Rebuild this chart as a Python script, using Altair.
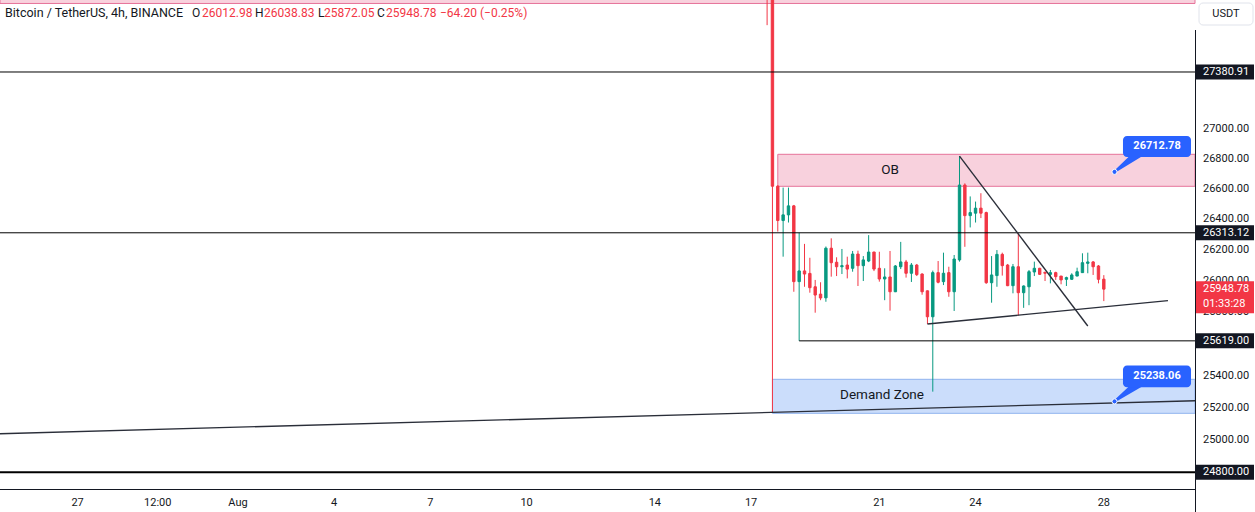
import altair as alt
import pandas as pd
import numpy as np

# ------------------------------------------------------------------ data
BASE = pd.Timestamp("2023-07-27 00:00")
X_START, X_END = "2023-07-24 13:55", "2023-08-30 20:14"
Y_LOW, Y_HIGH = 24697, 27873

candle_start = "2023-08-17 12:00"
opens = [28500, 28280, 26618, 26393, 26430, 26489, 25997, 26066, 26050, 25964,
         25917, 25893, 26213, 26122, 26093, 26104, 26083, 26175, 26100, 26130,
         26188, 26083, 26014, 26027, 25932, 26093, 26124, 26051, 26104, 26046,
         25938, 25772, 26055, 25997, 26055, 25932, 26137, 26626, 26425, 26441,
         26474, 26445, 25990, 26036, 26173, 26104, 25971, 26093, 25926, 25964,
         26059, 26083, 26057, 26044, 26055, 26033, 26012, 26012, 26033, 26055,
         26115, 26124, 26098, 26012.98]
highs = [28600, 28320, 26625, 26609, 26609, 26495, 26313.12, 26241, 26151, 26008,
         25993, 26224, 26277, 26154, 26208, 26158, 26195, 26197, 26162, 26298,
         26190, 26190, 26083, 26195, 26104, 26254, 26137, 26117, 26111, 26051,
         25940, 26068, 26130, 26184, 26093, 26169, 26817, 26637, 26551, 26517,
         26572, 26451, 26162, 26201, 26184, 26111, 26111, 26310, 25973, 26072,
         26126, 26086, 26061, 26072, 26061, 26033, 26029, 26051, 26087, 26180,
         26184, 26130, 26104, 26038.83]
lows = [27700, 25166, 26321, 26158, 26380, 25932, 25619, 25964, 25926, 25798,
        25878, 25868, 26029, 26033, 26046, 26018, 26061, 25969, 26001, 26123,
        26065, 25997, 25878, 25811, 25930, 26078, 26023, 25995, 26033, 25913,
        25726, 25299, 25986, 25975, 25900, 25809, 26126, 26222, 26348, 26380,
        26409, 25983, 25862, 25964, 26036, 25968, 25922, 25780, 25829, 25846,
        26033, 26040, 26001, 25986, 26008, 25980, 25969, 26008, 26033, 26053,
        26051, 26040, 25986, 25872.05]
closes = [28280, 26618, 26393, 26430, 26489, 25997, 26066, 26046, 25958, 25911,
          25892, 26213, 26119, 26093, 26100, 26078, 26175, 26100, 26137, 26188,
          26078, 26014, 26027, 25932, 26098, 26124, 26051, 26104, 26042, 25932,
          25772, 26055, 25993, 26051, 25932, 26143, 26626, 26425, 26445, 26474,
          26441, 25990, 26040, 26173, 26100, 25971, 26093, 25926, 25969, 26061,
          26083, 26044, 26051, 26055, 26029, 26008, 26023, 26040, 26061, 26119,
          26124, 26093, 26012, 25948.78]

# horizontal levels drawn on the chart
level_prices = [27380.91, 26313.12, 25619.00, 24800.00]
level_starts = [X_START, X_START, "2023-08-18 12:00", X_START]
level_widths = [1, 1, 1, 2]

# zones (rectangles)
zone_names = ["upper", "OB", "Demand Zone"]
zone_starts = [X_START, "2023-08-17 20:00", "2023-08-17 16:00"]
zone_low = [27849, 26617.5, 25163.8]
zone_high = [28600, 26829, 25376.4]
zone_label_time = ["2023-08-21 08:00", "2023-08-21 02:00"]
zone_label_price = [26725, 25278]

# trend lines
trend_ids = ["base", "base", "desc", "desc", "asc", "asc"]
trend_times = [X_START, X_END, "2023-08-23 12:00", "2023-08-27 12:00",
               "2023-08-22 12:00", "2023-08-30 00:00"]
trend_prices = [25037, 25242.4, 26817, 25713, 25726, 25875]

# price callouts
callout_values = [26712.78, 25238.06]
callout_anchor = "2023-08-28 08:00"
callout_box = ("2023-08-28 14:20", "2023-08-30 17:15")
callout_box_low = [26811, 25326]
callout_box_high = [26951, 25464]
callout_text_time = "2023-08-29 15:50"
callout_text_price = [26881, 25397]
callout_tail_time = "2023-08-29 02:20"
callout_tail_price = [26838, 25353]

# axes
price_ticks = [27000, 26800, 26600, 26400, 26200, 26000, 25800, 25400, 25200, 25000]
time_ticks = ["2023-07-27 00:00", "2023-07-29 12:00", "2023-08-01", "2023-08-04",
              "2023-08-07", "2023-08-10", "2023-08-14", "2023-08-17", "2023-08-21",
              "2023-08-24", "2023-08-28"]
time_labels = ["27", "12:00", "Aug", "4", "7", "10", "14", "17", "21", "24", "28"]
last_price = 25948.78
countdown = "01:33:28"

# ------------------------------------------------------------------ style
GREEN, RED, INK, BLUE = "#089981", "#f23645", "#131722", "#2962ff"
FONT = "Roboto"
PLOT_W, PLOT_H = 1195, 489


def day(t):
    return (pd.Timestamp(t) - BASE) / pd.Timedelta(days=1)


xs = alt.Scale(domain=[day(X_START), day(X_END)], range=[0, PLOT_W], nice=False,
               zero=False, padding=0)
ys = alt.Scale(type="log", domain=[Y_LOW, Y_HIGH], range=[PLOT_H, 0], nice=False,
               padding=0)


def X(f="d"):
    return alt.X(f"{f}:Q", scale=xs, axis=None)


def Y(f="p"):
    return alt.Y(f"{f}:Q", scale=ys, axis=None)


times = pd.date_range(candle_start, periods=len(opens), freq="4h")
cdf = pd.DataFrame({"d": [day(t) for t in times], "o": opens, "h": highs,
                    "l": lows, "c": closes})
cdf["col"] = np.where(cdf["c"] >= cdf["o"], GREEN, RED)

zdf = pd.DataFrame({"name": zone_names, "d": [day(t) for t in zone_starts],
                    "d2": day(X_END), "p": zone_low, "p2": zone_high,
                    "fill": ["#f8d1dd", "#f8d1dd", "#cbddfb"],
                    "stroke": ["#e6739a", "#e6739a", "#90b3ee"]})
zl = pd.DataFrame({"t": ["OB", "Demand Zone"], "d": [day(t) for t in zone_label_time],
                   "p": zone_label_price})
ldf = pd.DataFrame({"d": [day(t) for t in level_starts], "d2": day(X_END),
                    "p": level_prices, "w": level_widths})
tdf = pd.DataFrame({"id": trend_ids, "d": [day(t) for t in trend_times], "p": trend_prices})

cb = pd.DataFrame({"d": day(callout_box[0]), "d2": day(callout_box[1]),
                   "p": callout_box_low, "p2": callout_box_high})
ct = pd.DataFrame({"d": day(callout_text_time), "p": callout_text_price,
                   "t": [f"{v:.2f}" for v in callout_values]})
tail_rows = []
for i, v in enumerate(callout_values):
    tail_rows.append({"id": i, "d": day(callout_tail_time), "p": callout_tail_price[i], "s": 9})
    tail_rows.append({"id": i, "d": day(callout_anchor), "p": v, "s": 2})
tail = pd.DataFrame(tail_rows)
dots = pd.DataFrame({"d": day(callout_anchor), "p": callout_values})

ptdf = pd.DataFrame({"p": price_ticks, "t": [f"{v:.2f}" for v in price_ticks]})
mkdf = pd.DataFrame({"p": level_prices, "t": [f"{v:.2f}" for v in level_prices]})
lastdf = pd.DataFrame({"p": [last_price], "t": [f"{last_price:.2f}"], "cd": [countdown]})
xt = pd.DataFrame({"d": [day(t) for t in time_ticks], "t": time_labels})
one = pd.DataFrame({"a": [0]})

# ------------------------------------------------------------------ layers
zones = alt.Chart(zdf).mark_rect(strokeWidth=1, clip=True).encode(
    x=X("d"), x2="d2:Q", y=Y("p"), y2="p2:Q",
    fill=alt.Fill("fill:N", scale=None), stroke=alt.Stroke("stroke:N", scale=None))
zone_text = alt.Chart(zl).mark_text(font=FONT, fontSize=13.5, color=INK).encode(
    x=X("d"), y=Y("p"), text="t:N")

wicks = alt.Chart(cdf).mark_rule(strokeWidth=1, clip=True).encode(
    x=X("d"), y=Y("l"), y2="h:Q", color=alt.Color("col:N", scale=None))
bodies = alt.Chart(cdf).mark_bar(size=2.4, strokeWidth=1, clip=True).encode(
    x=X("d"), y=Y("o"), y2="c:Q",
    fill=alt.Fill("col:N", scale=None), stroke=alt.Stroke("col:N", scale=None))

levels = alt.Chart(ldf).mark_rule(color="#000000").encode(
    x=X("d"), x2="d2:Q", y=Y("p"), strokeWidth=alt.StrokeWidth("w:Q", scale=None))
trends = alt.Chart(tdf).mark_line(color="#2a2e39", strokeWidth=1.4, clip=True).encode(
    x=X("d"), y=Y("p"), detail="id:N")

c_box = alt.Chart(cb).mark_rect(cornerRadius=4, color=BLUE).encode(
    x=X("d"), x2="d2:Q", y=Y("p"), y2="p2:Q")
c_tail = alt.Chart(tail).mark_trail(color=BLUE).encode(
    x=X("d"), y=Y("p"), size=alt.Size("s:Q", scale=None), detail="id:N")
c_dot = alt.Chart(dots).mark_circle(size=26, color=BLUE, opacity=1, stroke="white",
                                    strokeWidth=1).encode(x=X("d"), y=Y("p"))
c_txt = alt.Chart(ct).mark_text(font=FONT, fontSize=11, fontWeight="bold",
                                color="white").encode(x=X("d"), y=Y("p"), text="t:N")

hborder = alt.Chart(one).mark_rule(color=INK, strokeWidth=1).encode(
    x=alt.value(0), x2=alt.value(PLOT_W), y=alt.value(PLOT_H + 0.5))
vborder = alt.Chart(one).mark_rule(color=INK, strokeWidth=1).encode(
    x=alt.value(PLOT_W + 0.5), y=alt.value(30), y2=alt.value(512))

tick_txt = alt.Chart(ptdf).mark_text(align="left", baseline="middle", font=FONT,
                                     fontSize=11, color=INK).encode(
    x=alt.value(1203), y=Y("p"), text="t:N")
badges = alt.Chart(mkdf).mark_rule(strokeWidth=15, color=INK).encode(
    x=alt.value(PLOT_W + 1), x2=alt.value(1254), y=Y("p"))
badge_txt = alt.Chart(mkdf).mark_text(align="left", baseline="middle", font=FONT,
                                      fontSize=11, color="white").encode(
    x=alt.value(1203), y=Y("p"), text="t:N")
last_box = alt.Chart(lastdf).mark_rule(strokeWidth=32, color=RED, yOffset=8).encode(
    x=alt.value(PLOT_W + 1), x2=alt.value(1254), y=Y("p"))
last_txt = alt.Chart(lastdf).mark_text(align="left", baseline="middle", font=FONT,
                                       fontSize=11, color="white").encode(
    x=alt.value(1203), y=Y("p"), text="t:N")
cd_txt = alt.Chart(lastdf).mark_text(align="left", baseline="middle", font=FONT,
                                     fontSize=11, color="white", dy=15).encode(
    x=alt.value(1203), y=Y("p"), text="cd:N")

x_txt = alt.Chart(xt).mark_text(align="center", baseline="middle", font=FONT,
                                fontSize=11, color=INK).encode(
    x=X("d"), y=alt.value(503), text="t:N")

usdt_box = alt.Chart(one).mark_rect(cornerRadius=4, fill="white", stroke="#e0e3eb",
                                    strokeWidth=1).encode(
    x=alt.value(1199), x2=alt.value(1253), y=alt.value(3), y2=alt.value(25))
usdt_txt = alt.Chart(one).mark_text(font=FONT, fontSize=11, color=INK).encode(
    x=alt.value(1226), y=alt.value(14), text=alt.value("USDT"))

header_parts = [("Bitcoin / TetherUS, 4h, BINANCE", 5, INK, 12.5),
                ("O", 192, INK, 12), ("26012.98", 202, RED, 12),
                ("H", 255, INK, 12), ("26038.83", 264, RED, 12),
                ("L", 318, INK, 12), ("25872.05", 324, RED, 12),
                ("C", 377, INK, 12), ("25948.78", 386, RED, 12),
                ("\u221264.20 (\u22120.25%)", 440, RED, 12)]
header = [alt.Chart(one).mark_text(align="left", baseline="middle", font=FONT,
                                   fontSize=fs, color=c).encode(
    x=alt.value(px), y=alt.value(13), text=alt.value(s)) for s, px, c, fs in header_parts]

chart = alt.layer(
    zones, zone_text, wicks, bodies, levels, trends,
    c_tail, c_box, c_dot, c_txt,
    hborder, vborder, tick_txt, badges, badge_txt, last_box, last_txt, cd_txt,
    x_txt, usdt_box, usdt_txt, *header
).properties(width=1255, height=512,
             padding={"left": 0, "top": 0, "right": 0, "bottom": 0},
             autosize="none", background="white").configure_view(stroke=None)

chart.save("out.html", embed_options={"renderer": "svg", "actions": False})
